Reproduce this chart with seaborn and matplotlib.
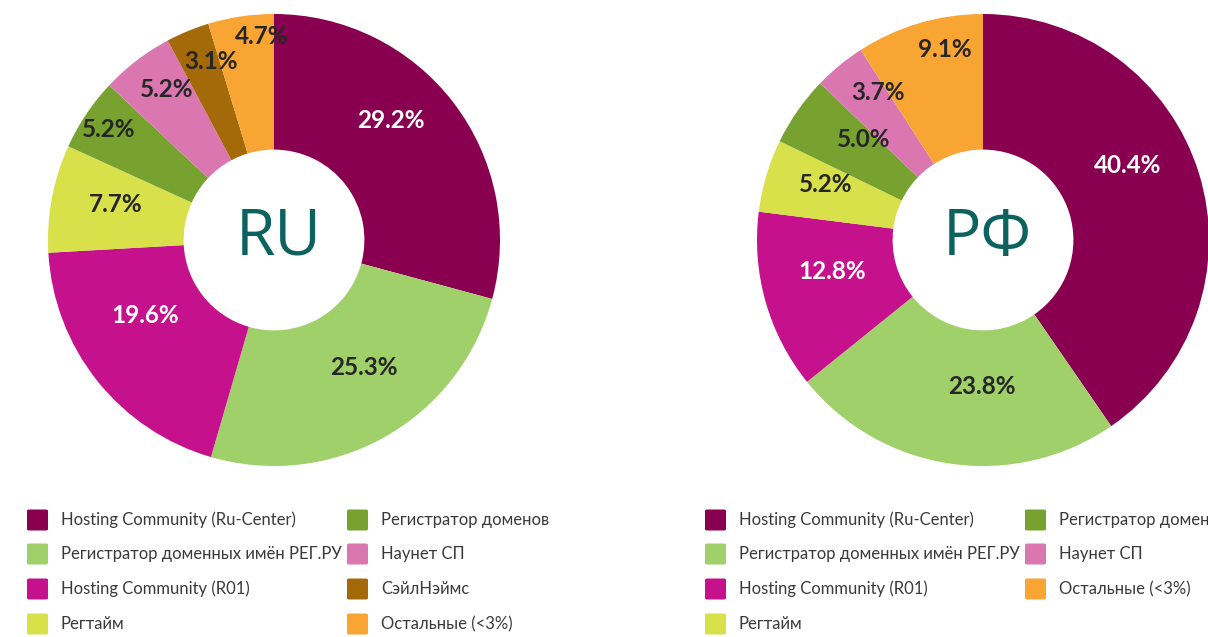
import numpy as np
import matplotlib
matplotlib.use("Agg")
import matplotlib.pyplot as plt
from matplotlib.patches import FancyBboxPatch
import seaborn as sns

# data
ru_names = ["Hosting Community (Ru-Center)", "Регистратор доменных имён РЕГ.РУ",
            "Hosting Community (R01)", "Регтайм", "Регистратор доменов",
            "Наунет СП", "СэйлНэймс", "Остальные (<3%)"]
ru_values = [29.2, 25.3, 19.6, 7.7, 5.2, 5.2, 3.1, 4.7]

rf_names = ["Hosting Community (Ru-Center)", "Регистратор доменных имён РЕГ.РУ",
            "Hosting Community (R01)", "Регтайм", "Регистратор доменов",
            "Наунет СП", "Остальные (<3%)"]
rf_values = [40.4, 23.8, 12.8, 5.2, 5.0, 3.7, 9.1]

palette = sns.color_palette(["#8A0051", "#A0D06A", "#C6118C", "#D8E04A",
                             "#78A22F", "#DB77B0", "#A46A0A", "#F8A534"])
colors = dict(zip(ru_names, palette))
white_labels = {"Hosting Community (Ru-Center)", "Hosting Community (R01)"}

# label placement: radial distance (fraction of radius) and angle nudge (deg)
ru_label_r = [0.74, 0.69, 0.66, 0.72, 0.88, 0.82, 0.84, 0.90]
ru_label_da = [8, 6, -8, -2, 0, -2, -3, -5]
rf_label_r = [0.72, 0.65, 0.68, 0.74, 0.69, 0.80, 0.86]
rf_label_da = [10, 8, -4, -3, -5, -4, -5]

sns.set_style("white")
plt.rcParams["font.family"] = ["Lato", "DejaVu Sans"]

W, H = 1208, 637
fig = plt.figure(figsize=(W / 100, H / 100), dpi=100)


def donut(cx, cy, r, names, values, label_r, label_da, title):
    ax = fig.add_axes([(cx - r) / W, (H - cy - r) / H, 2 * r / W, 2 * r / H])
    wedges, _ = ax.pie(values, colors=[colors[n] for n in names], startangle=90,
                       counterclock=False, radius=1,
                       wedgeprops=dict(width=0.6, edgecolor="none"))
    ax.set_xlim(-1, 1)
    ax.set_ylim(-1, 1)
    ax.set_aspect("equal")
    ax.axis("off")
    for w, n, v, lr, da in zip(wedges, names, values, label_r, label_da):
        ang = np.deg2rad((w.theta1 + w.theta2) / 2 + da)
        c = "white" if n in white_labels else "#262626"
        ax.text(lr * np.cos(ang), lr * np.sin(ang), f"{v:.1f}%", ha="center",
                va="center", fontsize=17.5, fontweight="bold", color=c)
    ax.text(0.02, 0.01, title, ha="center", va="center", fontsize=46,
            color="#0B625F", family=["Open Sans", "DejaVu Sans"])


def legend(x0, names):
    rows = [520, 554, 589, 624]
    for i, n in enumerate(names):
        col, row = divmod(i, 4)
        sx = x0 + col * 320
        sy = rows[row]
        box = FancyBboxPatch((sx / W, (H - sy - 10.5) / H), 21 / W, 21 / H,
                             boxstyle="round,pad=0,rounding_size=0.002",
                             transform=fig.transFigure, facecolor=colors[n],
                             edgecolor="none")
        fig.patches.append(box)
        fig.text((sx + 34) / W, (H - sy) / H, n, ha="left", va="center",
                 fontsize=12, color="#3A3A3A")


donut(274, 240, 226, ru_names, ru_values, ru_label_r, ru_label_da, "RU")
donut(983, 240, 226, rf_names, rf_values, rf_label_r, rf_label_da, "РФ")
legend(27, ru_names)
legend(705, rf_names)

fig.savefig("out.png", dpi=100)
